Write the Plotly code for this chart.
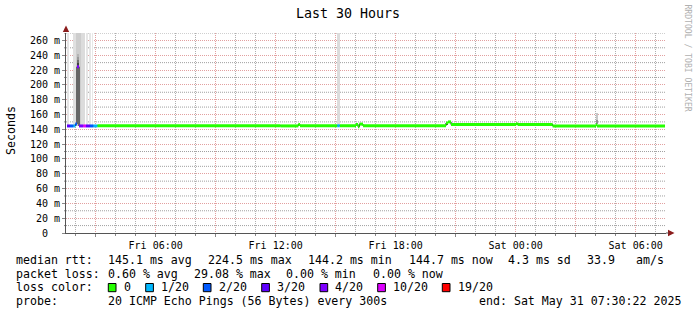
import plotly.graph_objects as go
from datetime import datetime

W, H = 697, 315


def px(x):
    return x / W


def py(y):
    return 1 - y / H


# ---------------- data ----------------
LOSS_LEVELS = ["0", "1/20", "2/20", "3/20", "4/20", "10/20", "19/20"]
LOSS_COLORS = ["#26ff00", "#00b8ff", "#0059ff", "#5e00ff", "#7e00ff", "#dd00ff", "#ff0000"]

# median rtt (ms) as steps: segment start time, value, loss level index
seg_start = [
    "2025-05-30 01:34", "2025-05-30 01:43", "2025-05-30 01:53", "2025-05-30 01:59",
    "2025-05-30 02:04", "2025-05-30 02:10", "2025-05-30 02:23", "2025-05-30 02:31",
    "2025-05-30 02:43", "2025-05-30 02:53", "2025-05-30 03:05", "2025-05-30 12:15",
    "2025-05-30 13:08", "2025-05-30 13:13", "2025-05-30 15:05", "2025-05-30 15:12",
    "2025-05-30 16:01", "2025-05-30 16:07", "2025-05-30 16:11", "2025-05-30 16:22",
    "2025-05-30 20:31", "2025-05-30 20:37", "2025-05-30 20:46", "2025-05-31 00:01",
    "2025-05-31 00:06", "2025-05-31 01:51", "2025-05-31 04:01", "2025-05-31 04:04",
]
seg_end_last = "2025-05-31 07:28"
seg_rtt = [
    144.5, 144.5, 144.5, 147.0,
    224.5, 144.5, 144.5, 144.5,
    144.5, 144.5, 144.8, 144.6,
    146.5, 144.8, 144.8, 144.8,
    146.5, 143.5, 147.0, 144.8,
    148.5, 150.0, 146.5, 147.5,
    146.5, 144.5, 146.0, 144.5,
]
seg_loss = [
    3, 2, 1, 2,
    4, 4, 5, 3,
    2, 1, 0, 0,
    0, 0, 1, 0,
    0, 0, 0, 0,
    0, 0, 0, 0,
    0, 0, 0, 0,
]

# smoke (rtt spread of individual pings): start, end, low ms, high ms, shade
smoke_start = ["2025-05-30 01:35", "2025-05-30 01:53", "2025-05-30 02:01", "2025-05-30 02:15",
               "2025-05-30 02:33", "2025-05-30 02:41", "2025-05-30 02:50",
               "2025-05-30 02:04", "2025-05-30 02:04", "2025-05-30 02:04", "2025-05-30 02:04",
               "2025-05-30 15:05", "2025-05-31 04:00", "2025-05-31 04:00", "2025-05-30 20:31"]
smoke_end = ["2025-05-30 01:40", "2025-05-30 02:01", "2025-05-30 02:15", "2025-05-30 02:28",
             "2025-05-30 02:36", "2025-05-30 02:45", "2025-05-30 02:52",
             "2025-05-30 02:11", "2025-05-30 02:11", "2025-05-30 02:11", "2025-05-30 02:11",
             "2025-05-30 15:12", "2025-05-31 04:06", "2025-05-31 04:06", "2025-05-30 20:37"]
smoke_lo = [145, 145, 145, 145, 145, 145, 145, 224, 229, 233, 237, 145, 147, 153, 146]
smoke_hi = [300, 300, 300, 300, 300, 300, 300, 229, 233, 237, 241, 300, 153, 162, 150.5]
smoke_shade = ["#e4e4e4", "#e0e0e0", "#cdcdcd", "#dcdcdc", "#e6e6e6", "#e6e6e6", "#e8e8e8",
               "#404040", "#707070", "#9a9a9a", "#b4b4b4", "#dcdcdc", "#909090", "#c8c8c8", "#303030"]

# axes
x_range = ["2025-05-30 01:31", "2025-05-31 07:31"]
x_tick_times = ["2025-05-30 03:00", "2025-05-30 06:00", "2025-05-30 09:00", "2025-05-30 12:00",
                "2025-05-30 15:00", "2025-05-30 18:00", "2025-05-30 21:00", "2025-05-31 00:00",
                "2025-05-31 03:00", "2025-05-31 06:00"]
x_tick_labels = ["", "Fri 06:00", "", "Fri 12:00", "", "Fri 18:00", "", "Sat 00:00", "", "Sat 06:00"]
y_range = [0, 270]
y_tick_vals = list(range(0, 261, 20))
y_tick_labels = ["0\u00a0\u00a0"] + [f"{v} m" for v in y_tick_vals[1:]]
y_minor_vals = list(range(10, 271, 20))

# legend texts
title = "Last 30 Hours"
y_title = "Seconds"
rtt_stats = ["145.1 ms avg", "224.5 ms max", "144.2 ms min", "144.7 ms now", "4.3 ms sd", "33.9", "am/s"]
loss_stats = ["0.60 % avg", "29.08 % max", "0.00 % min", "0.00 % now"]
probe_text = "20 ICMP Echo Pings (56 Bytes) every 300s"
end_text = "end: Sat May 31 07:30:22 2025"

# ---------------- figure ----------------
FONT = "DejaVu Sans Mono"
fig = go.Figure()


def ts(s):
    return datetime.fromisoformat(s)


# smoke bars
mid, wid = [], []
for s, e in zip(smoke_start, smoke_end):
    a, b = ts(s), ts(e)
    mid.append(a + (b - a) / 2)
    wid.append((b - a).total_seconds() * 1000)
fig.add_trace(go.Bar(
    x=mid, y=[h - l for l, h in zip(smoke_lo, smoke_hi)], base=smoke_lo, width=wid,
    marker=dict(color=smoke_shade, line=dict(width=0)), showlegend=False, hoverinfo="skip",
))

# black median step line
fig.add_trace(go.Scatter(
    x=seg_start + [seg_end_last], y=seg_rtt + [seg_rtt[-1]], mode="lines",
    line=dict(color="#000000", width=1, shape="hv"), showlegend=False, hoverinfo="skip",
))

# coloured median segments by loss
seg_end = seg_start[1:] + [seg_end_last]
for li, col in enumerate(LOSS_COLORS):
    xs, ys = [], []
    for s, e, v, l in zip(seg_start, seg_end, seg_rtt, seg_loss):
        if l == li:
            xs += [s, e, None]
            ys += [v, v, None]
    if xs:
        fig.add_trace(go.Scatter(x=xs, y=ys, mode="lines", line=dict(color=col, width=3),
                                 showlegend=False, hoverinfo="skip"))

GRID_MINOR = "#b0b0b0"
GRID_MAJOR = "#e2a0a0"
X0, X1, Y0, Y1 = 66, 666, 233, 33

fig.update_layout(
    width=W, height=H, autosize=False,
    margin=dict(l=0, r=0, t=0, b=0, pad=0),
    paper_bgcolor="white", plot_bgcolor="white",
    barmode="overlay", bargap=0,
    font=dict(family=FONT, size=10, color="black"),
    xaxis=dict(
        type="date", range=x_range, domain=[px(X0), px(X1)],
        tickvals=x_tick_times, ticktext=x_tick_labels, tickangle=0,
        showgrid=True, gridcolor=GRID_MAJOR, griddash="1px,1px", gridwidth=1,
        ticks="outside", ticklen=3, tickcolor="#888888",
        showline=True, linecolor="#555555", linewidth=1,
        tickfont=dict(family=FONT, size=10, color="black"),
        minor=dict(dtick=3600000, tick0="2025-05-30 00:00", showgrid=True, gridcolor=GRID_MINOR,
                   griddash="1px,1px", gridwidth=1, ticks="outside", ticklen=2, tickcolor="#888888"),
        zeroline=False, fixedrange=True, automargin=False,
    ),
    yaxis=dict(
        range=y_range, domain=[py(Y0), py(Y1)],
        tickvals=y_tick_vals, ticktext=y_tick_labels,
        showgrid=True, gridcolor=GRID_MAJOR, griddash="1px,1px", gridwidth=1,
        ticks="outside", ticklen=3, tickcolor="#888888",
        showline=True, linecolor="#555555", linewidth=1,
        tickfont=dict(family=FONT, size=10, color="black"),
        zeroline=False, fixedrange=True, automargin=False,
    ),
)

ann = []


def text(x, y, s, size=11.6, color="black", anchor="left", angle=0):
    ann.append(dict(x=px(x), y=py(y), xref="paper", yref="paper", text=s, showarrow=False,
                    xanchor=anchor, yanchor="middle", borderpad=0, textangle=angle,
                    font=dict(family=FONT, size=size, color=color)))


text(348, 14, title, size=13.3, anchor="center")
text(11, 131, y_title, size=11.6, anchor="center", angle=-90)
text(687.5, 58, "RRDTOOL / TOBI OETIKER", size=8.1, color="#b0b0b0", anchor="center", angle=90)

# legend line 1
text(15.3, 259.5, "median rtt:")
for s, x in zip(rtt_stats, [106.6, 206.6, 306.6, 407.6, 506.6, 586.0, 634.6]):
    text(x, 259.5, s)
# line 2
text(15.3, 273.5, "packet loss:")
for s, x in zip(loss_stats, [106.6, 192.6, 285.3, 371.6]):
    text(x, 273.5, s)
# line 3
text(15.3, 287.3, "loss color:")
shapes = []

# minor horizontal grid (every 10 ms between the labelled lines), placed via the y scale
for v in y_minor_vals:
    shapes.append(dict(type="line", xref="x domain", yref="y", x0=0, x1=1, y0=v, y1=v,
                       layer="below", line=dict(color="#a0a0a0", width=1, dash="1px,1px")))
    shapes.append(dict(type="line", xref="x domain", yref="y", x0=-2 / 600, x1=0, y0=v, y1=v,
                       layer="below", line=dict(color="#888888", width=1)))

box_x = [108.3, 145.7, 203.3, 261.7, 320.0, 377.7, 442.3]
for bx, lab, col in zip(box_x, LOSS_LEVELS, LOSS_COLORS):
    shapes.append(dict(type="rect", xref="paper", yref="paper", x0=px(bx), x1=px(bx + 7.7),
                       y0=py(291.7), y1=py(283.5), fillcolor=col, line=dict(color="black", width=1)))
    text(bx + 14.3, 287.3, lab)
# line 4
text(15.3, 301.2, "probe:")
text(106.6, 301.2, probe_text)
text(477.6, 301.2, end_text)

# axis arrows
ARROW = "#8b1c1c"
shapes.append(dict(type="path", xref="paper", yref="paper",
                   path=f"M {px(X0 - 3.2)} {py(32)} L {px(X0 + 3.2)} {py(32)} L {px(X0)} {py(25.5)} Z",
                   fillcolor=ARROW, line=dict(width=0)))
shapes.append(dict(type="path", xref="paper", yref="paper",
                   path=f"M {px(668)} {py(Y0 - 3.2)} L {px(668)} {py(Y0 + 3.2)} L {px(674.5)} {py(Y0)} Z",
                   fillcolor=ARROW, line=dict(width=0)))
shapes.append(dict(type="line", xref="paper", yref="paper", x0=px(X1), x1=px(668.5),
                   y0=py(Y0), y1=py(Y0), line=dict(color="#555555", width=1)))

fig.update_layout(annotations=ann, shapes=shapes)
fig.write_html("out.html")
